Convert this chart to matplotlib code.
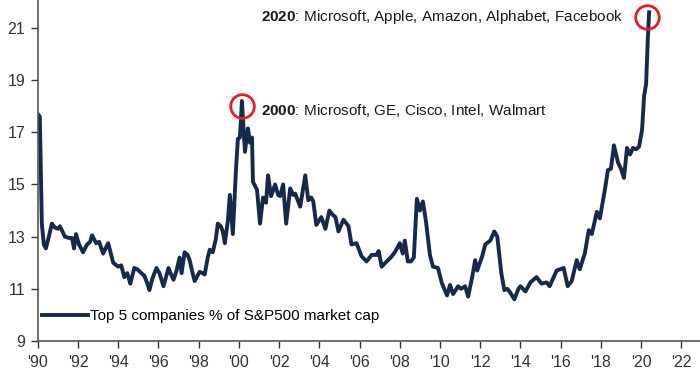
import matplotlib
matplotlib.use('Agg')
import matplotlib.pyplot as plt
import numpy as np

plt.rcParams['font.family'] = ['Liberation Sans', 'DejaVu Sans']
plt.rcParams['mathtext.fontset'] = 'custom'
plt.rcParams['mathtext.rm'] = 'Liberation Sans'
plt.rcParams['mathtext.bf'] = 'Liberation Sans:bold'

# decimal year, share of S&P500 market cap held by top 5 (%)
years = [
    1990.00, 1990.10, 1990.20, 1990.30, 1990.40, 1990.55, 1990.70, 1990.85, 1991.00, 1991.10,
    1991.35, 1991.55, 1991.70, 1991.80, 1991.90, 1992.05, 1992.25, 1992.45, 1992.60, 1992.70,
    1992.90, 1993.05, 1993.25, 1993.40, 1993.50, 1993.65, 1993.75, 1994.00, 1994.15, 1994.30,
    1994.45, 1994.60, 1994.80, 1994.95, 1995.15, 1995.30, 1995.45, 1995.55, 1995.70, 1995.90,
    1996.05, 1996.25, 1996.50, 1996.60, 1996.75, 1996.90, 1997.05, 1997.15, 1997.30, 1997.45,
    1997.55, 1997.70, 1997.80, 1998.05, 1998.20, 1998.30, 1998.45, 1998.55, 1998.70, 1998.85,
    1998.95, 1999.10, 1999.20, 1999.30, 1999.45, 1999.55, 1999.70, 1999.85, 1999.95, 2000.05,
    2000.15, 2000.25, 2000.30, 2000.45, 2000.55, 2000.65, 2000.70, 2000.90, 2001.05, 2001.20,
    2001.35, 2001.45, 2001.60, 2001.80, 2001.95, 2002.05, 2002.20, 2002.35, 2002.55, 2002.70,
    2002.80, 2003.05, 2003.30, 2003.45, 2003.60, 2003.70, 2003.85, 2004.10, 2004.30, 2004.50,
    2004.65, 2004.80, 2004.95, 2005.20, 2005.45, 2005.60, 2005.85, 2006.10, 2006.35, 2006.60,
    2006.85, 2006.95, 2007.10, 2007.35, 2007.55, 2007.75, 2007.90, 2008.00, 2008.15, 2008.25,
    2008.40, 2008.55, 2008.70, 2008.85, 2009.00, 2009.15, 2009.30, 2009.50, 2009.65, 2009.90,
    2010.10, 2010.35, 2010.50, 2010.65, 2010.90, 2011.05, 2011.25, 2011.40, 2011.60, 2011.75,
    2011.85, 2012.10, 2012.25, 2012.50, 2012.70, 2012.85, 2013.05, 2013.20, 2013.35, 2013.50,
    2013.70, 2013.90, 2014.00, 2014.25, 2014.50, 2014.80, 2015.05, 2015.30, 2015.45, 2015.80,
    2016.15, 2016.35, 2016.55, 2016.80, 2016.95, 2017.20, 2017.40, 2017.55, 2017.80, 2017.95,
    2018.20, 2018.35, 2018.50, 2018.65, 2018.85, 2019.00, 2019.15, 2019.30, 2019.45, 2019.60,
    2019.75, 2019.90, 2020.05, 2020.15, 2020.25, 2020.33, 2020.40,
]
share = [
    17.7, 17.6, 13.5, 12.7, 12.55, 13.0, 13.5, 13.35, 13.3, 13.4,
    13.0, 12.95, 12.95, 12.55, 13.1, 12.7, 12.4, 12.7, 12.8, 13.05,
    12.75, 12.8, 12.35, 12.6, 12.75, 12.3, 12.0, 11.85, 11.9, 11.45,
    11.6, 11.2, 11.8, 11.75, 11.6, 11.5, 11.2, 10.95, 11.4, 11.8,
    11.6, 11.1, 11.8, 11.6, 11.35, 11.7, 12.2, 11.6, 12.4, 12.3,
    12.1, 11.6, 11.3, 11.65, 11.6, 11.55, 12.2, 12.5, 12.4, 12.9,
    13.5, 13.4, 13.2, 12.75, 13.6, 14.6, 13.1, 15.5, 16.75, 16.8,
    18.2, 16.9, 16.25, 17.15, 16.6, 16.8, 15.1, 14.8, 13.5, 14.5,
    14.3, 15.35, 14.55, 15.0, 14.6, 14.55, 15.0, 13.5, 14.85, 14.6,
    14.65, 14.15, 15.35, 14.4, 14.5, 14.35, 13.45, 13.75, 13.3, 14.0,
    13.85, 13.75, 13.2, 13.65, 13.4, 12.7, 12.75, 12.25, 12.05, 12.3,
    12.3, 12.45, 11.85, 12.05, 12.2, 12.4, 12.6, 12.75, 12.35, 12.85,
    12.05, 12.05, 12.2, 14.45, 14.0, 14.35, 13.6, 12.3, 11.85, 11.8,
    11.2, 10.75, 11.15, 10.8, 11.1, 11.0, 11.1, 10.7, 11.45, 12.1,
    11.7, 12.25, 12.7, 12.85, 13.2, 13.0, 11.6, 10.95, 11.0, 10.85,
    10.6, 11.0, 11.1, 10.9, 11.25, 11.45, 11.2, 11.25, 11.1, 11.7,
    11.8, 11.1, 11.3, 12.1, 11.75, 12.35, 13.25, 13.1, 13.95, 13.7,
    14.8, 15.55, 15.6, 16.5, 15.85, 15.6, 15.25, 16.4, 16.15, 16.4,
    16.35, 16.45, 17.1, 18.4, 18.85, 20.5, 21.6,
]

peak_x = [2000.15, 2020.30]
peak_y = [18.0, 21.4]
notes = [r'$\bf{2000}$: Microsoft, GE, Cisco, Intel, Walmart',
         r'$\bf{2020}$: Microsoft, Apple, Amazon, Alphabet, Facebook']
note_y = [17.85, 21.42]

xticks = list(range(1990, 2023, 2))
xlabels = ["'%02d" % (y % 100) for y in xticks]
yticks = list(range(9, 22, 2))

navy = '#15294d'
red = '#e01f26'

fig = plt.figure(figsize=(7.0, 3.76), dpi=100)
ax = fig.add_axes([0.054, 0.093, 0.946, 0.907])

ax.plot(years, share, color=navy, lw=2.8, solid_joinstyle='round',
        label='Top 5 companies % of S&P500 market cap')
ax.plot(peak_x, peak_y, 'o', ms=17, mfc='none', mec=red, mew=2)

for y, t in zip(note_y, notes):
    ax.text(2001.1, y, t, fontsize=11, color='#1a1a1a', va='center', ha='left')

ax.set_xlim(1990, 2022.93)
ax.set_ylim(9, 22.07)
ax.set_xticks(xticks)
ax.set_xticklabels(xlabels)
ax.set_yticks(yticks)
ax.tick_params(labelsize=11.5, colors='#333333', length=5, width=1, direction='out')
ax.tick_params(axis='x', pad=5)
ax.tick_params(axis='y', pad=4)

for s in ['top', 'right']:
    ax.spines[s].set_visible(False)
for s in ['left', 'bottom']:
    ax.spines[s].set_color('#555555')
    ax.spines[s].set_linewidth(1.2)

ax.legend(loc='center left', bbox_to_anchor=(0.0, 0.073), frameon=False,
          fontsize=11, handlelength=3.0, handletextpad=0.1, borderaxespad=0, borderpad=0.3)

fig.savefig('out.png', dpi=100)
